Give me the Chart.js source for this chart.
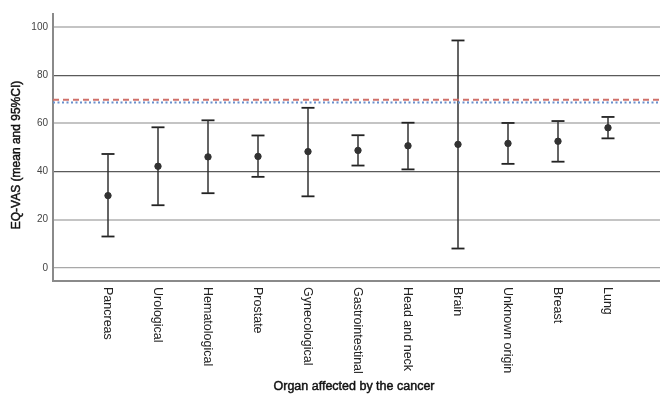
<!DOCTYPE html>
<html>
<head>
<meta charset="utf-8">
<script src="https://cdn.jsdelivr.net/npm/chart.js@4"></script>
<style>
  html, body { margin: 0; padding: 0; background: #fff; }
  #wrap { width: 660px; height: 394px; }
</style>
</head>
<body>
<div id="wrap"><canvas id="id-grafico" width="660" height="394"></canvas></div>
<script>
// organ groups, mean EQ-VAS and 95% CI
const organos = ["Pancreas", "Urological", "Hematological", "Prostate", "Gynecological",
  "Gastrointestinal", "Head and neck", "Brain", "Unknown origin", "Breast", "Lung"];
const medias = [30.0, 42.2, 46.1, 46.3, 48.3, 48.8, 50.7, 51.3, 51.7, 52.6, 58.2];
const ciBajo = [13.0, 26.0, 31.0, 37.8, 29.7, 42.5, 40.9, 8.0, 43.2, 44.1, 53.8];
const ciAlto = [47.3, 58.4, 61.3, 55.0, 66.5, 55.1, 60.3, 94.5, 60.2, 61.0, 62.7];
const yTicks = [0, 20, 40, 60, 80, 100];
const refRoja = 69.9;   // dashed red reference
const refAzul = 68.7;   // dotted blue reference

const xMin = -1.1, xMax = 11.04;
const yMin = -5.5, yMax = 105.5;

// whiskers: pairs of points separated by a gap
let bigotes = [];
let topes = [];
organos.forEach((o, i) => {
  bigotes.push({x: i, y: ciBajo[i]});
  bigotes.push({x: i, y: ciAlto[i]});
  bigotes.push({x: i, y: null});
  topes.push({x: i, y: ciBajo[i]});
  topes.push({x: i, y: ciAlto[i]});
});
let puntos = medias.map((m, i) => ({x: i, y: m}));

const etiquetas = {
  id: 'etiquetas',
  afterDraw(chart) {
    const ctx = chart.ctx;
    const xs = chart.scales.x;
    ctx.save();
    ctx.fillStyle = '#222';
    ctx.font = '12.5px "Liberation Sans", Arial, sans-serif';
    ctx.textAlign = 'left';
    ctx.textBaseline = 'middle';
    organos.forEach((o, i) => {
      const px = xs.getPixelForValue(i);
      ctx.save();
      ctx.translate(px - 1, 287);
      ctx.rotate(Math.PI / 2);
      ctx.fillText(o, 0, 0);
      ctx.restore();
    });
    // axis titles, a little heavier than the tick labels
    ctx.textAlign = 'center';
    ctx.font = '12.5px "Liberation Sans", Arial, sans-serif';
    ctx.fillStyle = '#111';
    ctx.strokeStyle = '#111';
    ctx.lineWidth = 0.45;
    ctx.fillText('Organ affected by the cancer', 354, 387);
    ctx.strokeText('Organ affected by the cancer', 354, 387);
    ctx.save();
    ctx.translate(17, 155);
    ctx.rotate(-Math.PI / 2);
    ctx.font = '12px "Liberation Sans", Arial, sans-serif';
    ctx.fillText('EQ-VAS (mean and 95%CI)', 0, 0);
    ctx.strokeText('EQ-VAS (mean and 95%CI)', 0, 0);
    ctx.restore();
    ctx.restore();
  }
};

function colorRejilla(ctx) {
  const v = ctx.tick ? ctx.tick.value : 0;
  if (v === 0) return '#a8a8a8';
  if (v === 20 || v === 60 || v === 100) return '#c4c4c4';
  return '#5a5a5a';
}
function anchoRejilla(ctx) {
  const v = ctx.tick ? ctx.tick.value : 0;
  if (v === 20 || v === 60 || v === 100) return 2;
  return 1.2;
}

new Chart('id-grafico', {
  type: 'scatter',
  data: {
    datasets: [
      {
        label: 'ref red',
        data: [{x: xMin, y: refRoja}, {x: xMax, y: refRoja}],
        showLine: true,
        borderColor: '#d0706a',
        borderWidth: 2,
        borderDash: [6, 4],
        pointRadius: 0
      },
      {
        label: 'ref blue',
        data: [{x: xMin, y: refAzul}, {x: xMax, y: refAzul}],
        showLine: true,
        borderColor: '#6a90cc',
        borderWidth: 2,
        borderDash: [2, 2.5],
        pointRadius: 0
      },
      {
        label: 'CI',
        data: bigotes,
        showLine: true,
        spanGaps: false,
        borderColor: '#333',
        borderWidth: 1.5,
        pointRadius: 0
      },
      {
        label: 'caps',
        data: topes,
        pointStyle: 'line',
        pointRadius: 6.5,
        borderColor: '#222',
        pointBorderWidth: 1.8,
        showLine: false
      },
      {
        label: 'mean',
        data: puntos,
        pointStyle: 'circle',
        pointRadius: 3.2,
        backgroundColor: '#333',
        borderColor: '#333',
        showLine: false
      }
    ]
  },
  options: {
    responsive: false,
    animation: false,
    layout: { autoPadding: false, padding: { top: 14, right: 0, left: 0, bottom: 0 } },
    plugins: {
      legend: { display: false },
      tooltip: { enabled: false }
    },
    scales: {
      x: {
        type: 'linear',
        min: xMin,
        max: xMax,
        afterFit: s => { s.height = 113; },
        ticks: { display: false },
        grid: { display: false },
        border: { display: true, color: '#8a8a8a', width: 2 }
      },
      y: {
        min: yMin,
        max: yMax,
        afterFit: s => { s.width = 53; },
        afterBuildTicks: s => { s.ticks = yTicks.map(v => ({value: v})); },
        ticks: {
          color: '#444',
          padding: 5,
          font: { size: 10, family: '"Liberation Sans", Arial, sans-serif' }
        },
        grid: {
          drawTicks: false,
          color: colorRejilla,
          lineWidth: anchoRejilla
        },
        border: { display: true, color: '#8a8a8a', width: 2 }
      }
    }
  },
  plugins: [etiquetas]
});
</script>
</body>
</html>
